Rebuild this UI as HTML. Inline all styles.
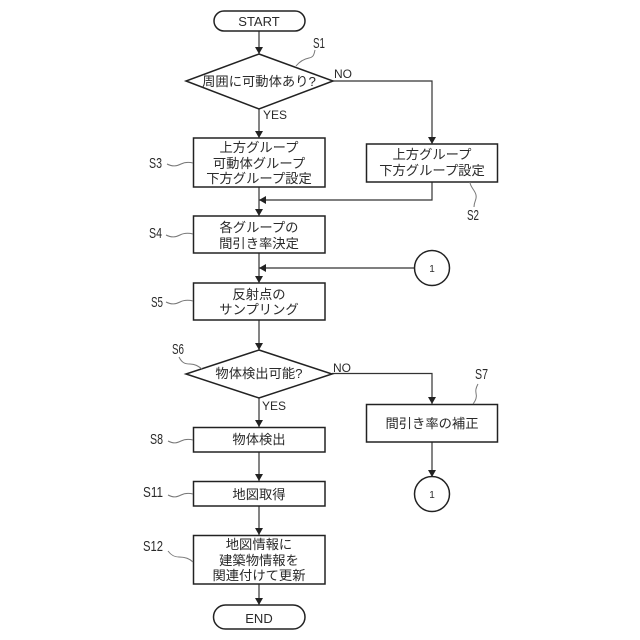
<!DOCTYPE html>
<html><head><meta charset="utf-8">
<style>
html,body{margin:0;padding:0;background:#fff}
svg{display:block}
text{font-family:"Liberation Sans","Noto Sans CJK JP",sans-serif;fill:#2a2a2a;font-size:13px;text-anchor:middle}
.j{font-size:13.3px}
.s{font-size:15px;text-anchor:start}
.l{font-size:12px;text-anchor:start}
.b{fill:#fff;stroke:#222;stroke-width:1.5}
.c{fill:none;stroke:#333;stroke-width:1.2}
.w{fill:none;stroke:#777;stroke-width:1}
.a{fill:#222;stroke:none}
</style></head><body>
<svg width="640" height="640" viewBox="0 0 640 640" xmlns="http://www.w3.org/2000/svg">
<!-- connectors -->
<path class="c" d="M259 31V54M259 109V138M259 187V216M259 253V283M259 320V350M259 398V427M259 452V481M259 506V535M259 584V605"/>
<path class="c" d="M333 81H432V144M432 182V200H259M414 268H259M332 373.500H432V404M432 442V476"/>
<!-- arrowheads -->
<path class="a" d="M259 54l-4-7h8zM259 138l-4-7h8zM259 216l-4-7h8zM259 283l-4-7h8zM259 350l-4-7h8zM259 427l-4-7h8zM259 481l-4-7h8zM259 535l-4-7h8zM259 605l-4-7h8zM432 144l-4-7h8zM432 404l-4-7h8zM432 477l-4-7h8zM259 200l7-4v8zM259 268l7-4v8z"/>
<!-- terminators -->
<rect class="b" x="214" y="11" width="91" height="20" rx="10"/>
<rect class="b" x="213.500" y="605" width="91.500" height="24" rx="12"/>
<!-- diamonds -->
<polygon class="b" points="259,54 333,81 259,109 186,81"/>
<polygon class="b" points="259,350 332,374 259,398 186,374"/>
<!-- boxes -->
<rect class="b" x="193.500" y="138" width="131.500" height="49"/>
<rect class="b" x="366.500" y="144" width="131" height="38"/>
<rect class="b" x="193.500" y="216" width="131.500" height="37"/>
<rect class="b" x="193.500" y="283" width="131.500" height="37"/>
<rect class="b" x="366.500" y="404.500" width="131" height="37.500"/>
<rect class="b" x="193.500" y="427.500" width="131.500" height="24.500"/>
<rect class="b" x="193.500" y="481.500" width="131.500" height="24.500"/>
<rect class="b" x="193.500" y="535.500" width="131.500" height="48.500"/>
<!-- circles -->
<circle class="b" cx="432" cy="268" r="17.500"/>
<circle class="b" cx="432" cy="494" r="17.500"/>
<!-- leaders -->
<path class="w" d="M296 66c4-5 8-7 13-8 5-1 5-4 6-8"/>
<path class="w" d="M167 164c6 3 10 2 14 0 4-2 8-2 12-1"/>
<path class="w" d="M470 182c0 5 5 8 6 13 1 5-2 6-2 12"/>
<path class="w" d="M166 235c6 3 10 2 14 0 4-2 9-2 13-1"/>
<path class="w" d="M166 302c6 3 10 2 14 0 4-2 9-2 13-1"/>
<path class="w" d="M179 357c3 6 6 7 11 7 5 0 8 2 12 5"/>
<path class="w" d="M473 404c3-4 4-7 3-11-1-4 1-7 2-9"/>
<path class="w" d="M168 441c6 3 9 2 13 0 4-2 8-2 12-1"/>
<path class="w" d="M168 495c6 3 9 2 13 0 4-2 8-2 12-1"/>
<path class="w" d="M168 551c3 4 6 6 11 6 5 0 10 1 14 5"/>
<!-- terminator text -->
<text x="259" y="26">START</text>
<text x="259" y="623">END</text>
<!-- node labels -->
<text class="j" x="259" y="86">周囲に可動体あり?</text>
<text class="j" x="259" y="152">上方グループ</text>
<text class="j" x="259" y="168">可動体グループ</text>
<text class="j" x="259" y="183">下方グループ設定</text>
<text class="j" x="432" y="159">上方グループ</text>
<text class="j" x="432" y="175">下方グループ設定</text>
<text class="j" x="259" y="232">各グループの</text>
<text class="j" x="259" y="248">間引き率決定</text>
<text class="j" x="259" y="299">反射点の</text>
<text class="j" x="259" y="314">サンプリング</text>
<text class="j" x="259" y="378">物体検出可能?</text>
<text class="j" x="432" y="428">間引き率の補正</text>
<text class="j" x="259" y="444">物体検出</text>
<text class="j" x="259" y="499">地図取得</text>
<text class="j" x="259" y="549">地図情報に</text>
<text class="j" x="259" y="565">建築物情報を</text>
<text class="j" x="259" y="580">関連付けて更新</text>
<text style="font-size:10px" x="432" y="272">1</text>
<text style="font-size:10px" x="432" y="498">1</text>
<!-- branch labels -->
<text class="l" x="334" y="78">NO</text>
<text class="l" x="263" y="119">YES</text>
<text class="l" x="333" y="372">NO</text>
<text class="l" x="262" y="410">YES</text>
<!-- step labels -->
<text class="s" x="313" y="48" textLength="12" lengthAdjust="spacingAndGlyphs">S1</text>
<text class="s" x="149" y="168" textLength="13" lengthAdjust="spacingAndGlyphs">S3</text>
<text class="s" x="467" y="220" textLength="12" lengthAdjust="spacingAndGlyphs">S2</text>
<text class="s" x="149" y="238" textLength="13" lengthAdjust="spacingAndGlyphs">S4</text>
<text class="s" x="151" y="307" textLength="12" lengthAdjust="spacingAndGlyphs">S5</text>
<text class="s" x="172" y="354" textLength="12" lengthAdjust="spacingAndGlyphs">S6</text>
<text class="s" x="475" y="379" textLength="13" lengthAdjust="spacingAndGlyphs">S7</text>
<text class="s" x="150" y="444" textLength="13" lengthAdjust="spacingAndGlyphs">S8</text>
<text class="s" x="143" y="497" textLength="20" lengthAdjust="spacingAndGlyphs">S11</text>
<text class="s" x="143" y="551" textLength="20" lengthAdjust="spacingAndGlyphs">S12</text>
</svg>
</body></html>
